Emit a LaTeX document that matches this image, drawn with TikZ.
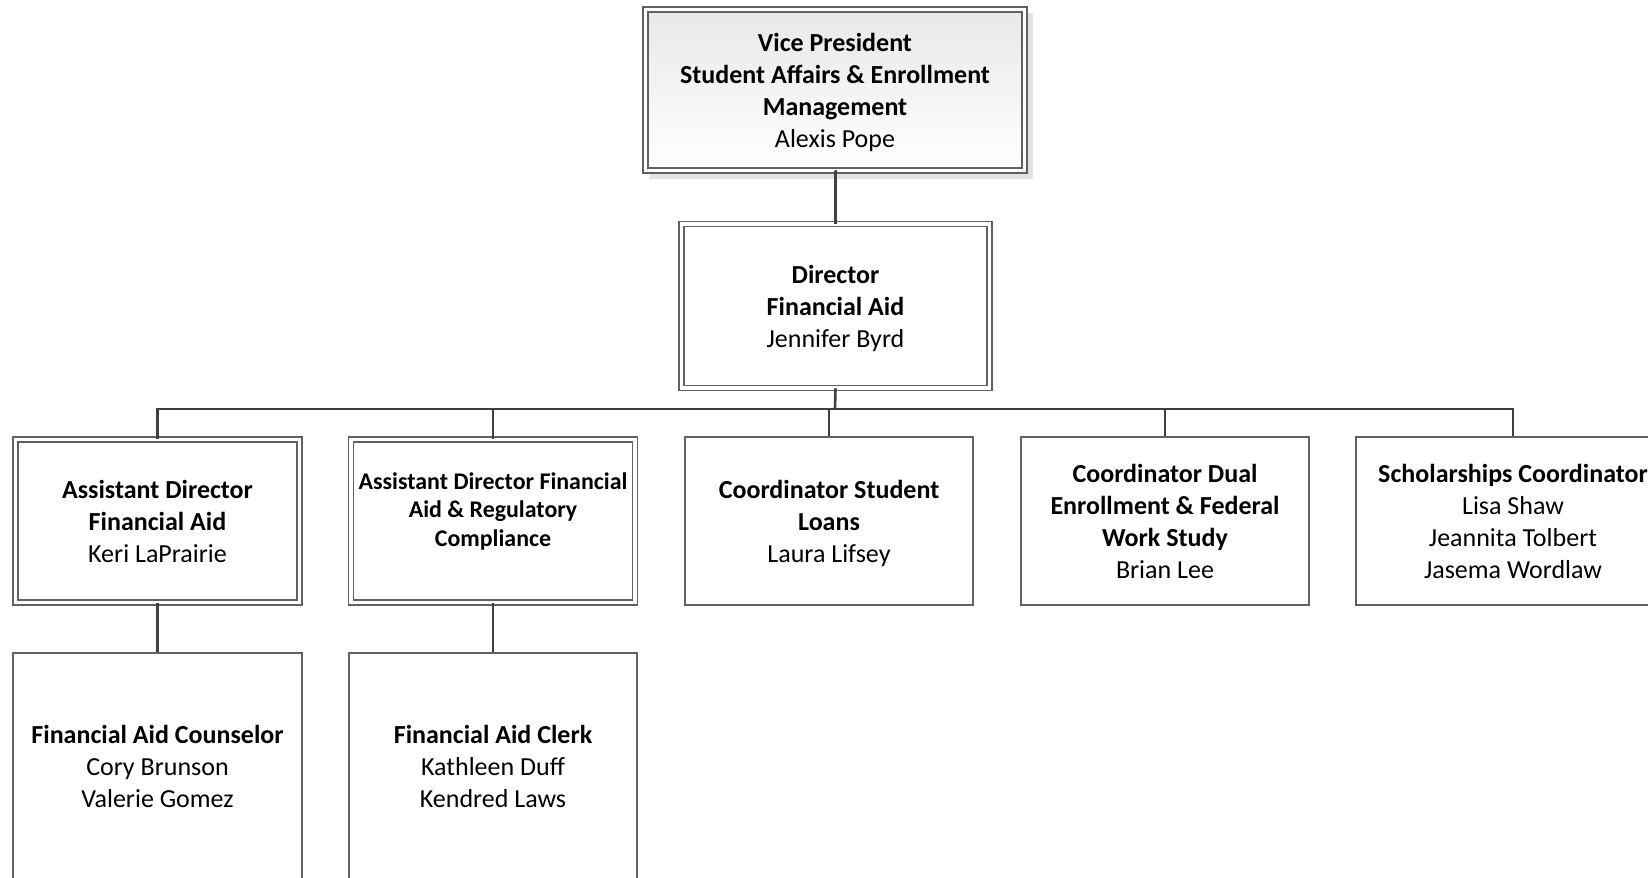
\documentclass[tikz,border=0pt]{standalone}
\usepackage{fontspec}
\setmainfont{Carlito}
\newcommand{\lstr}{\rule[-6.3bp]{0pt}{31.9bp}}
\begin{document}
\begin{tikzpicture}[x=1bp,y=-1bp,
  txt/.style={font=\fontsize{26.1}{32.1}\selectfont, align=center, text=black},
  smalltxt/.style={font=\fontsize{24}{28.6}\selectfont, align=center, text=black},
  dbox/.style={draw=black!62, line width=1.1bp, double=white, double distance=3.9bp, rectangle, inner sep=0pt},
  sbox/.style={draw=black!62, line width=1.1bp, rectangle, inner sep=0pt},
  conn/.style={draw=black!75, line width=2.6bp}]
\useasboundingbox (0,0) rectangle (1648,877);
\clip (0,0) rectangle (1648,877);
% shadow of the top box
\fill[black!11] (649,13) rectangle (1033,179);
\node[dbox, top color=black!9, bottom color=white, minimum width=379bp, minimum height=161bp, txt] (vp) at (835,90)
  {\lstr\textbf{Vice President}\\\textbf{Student Affairs \& Enrollment}\\\textbf{Management}\\Alexis Pope\lstr};
\node[dbox, fill=white, minimum width=308bp, minimum height=163.5bp, txt] (dir) at (835.5,306)
  {\lstr\textbf{Director}\\\textbf{Financial Aid}\\Jennifer Byrd\lstr};
\node[dbox, fill=white, minimum width=284bp, minimum height=163bp, txt] (ad1) at (157.5,521)
  {\lstr\textbf{Assistant Director}\\\textbf{Financial Aid}\\Keri LaPrairie\lstr};
\node[dbox, fill=white, minimum width=283.5bp, minimum height=163bp, smalltxt] (ad2) at (493,521) {};
\node[smalltxt] (ad2t) at (493,511)
  {\textbf{Assistant Director Financial}\\\textbf{Aid \& Regulatory}\\\textbf{Compliance}};
\node[sbox, fill=white, minimum width=288bp, minimum height=168bp, txt] (csl) at (829,521)
  {\lstr\textbf{Coordinator Student}\\\textbf{Loans}\\Laura Lifsey\lstr};
\node[sbox, fill=white, minimum width=288bp, minimum height=168bp, txt] (cde) at (1165,521)
  {\lstr\textbf{Coordinator Dual}\\\textbf{Enrollment \& Federal}\\\textbf{Work Study}\\Brian Lee\lstr};
\node[sbox, fill=white, minimum width=314bp, minimum height=168bp, txt] (sch) at (1513,521)
  {\lstr\textbf{Scholarships Coordinator}\\Lisa Shaw\\Jeannita Tolbert\\Jasema Wordlaw\lstr};
\node[sbox, fill=white, minimum width=289bp, minimum height=226bp, txt] (fac) at (157.5,766)
  {\lstr\textbf{Financial Aid Counselor}\\Cory Brunson\\Valerie Gomez\lstr};
\node[sbox, fill=white, minimum width=288bp, minimum height=226bp, txt] (fcl) at (493,766)
  {\lstr\textbf{Financial Aid Clerk}\\Kathleen Duff\\Kendred Laws\lstr};
% connectors
\coordinate (bus) at (835,409);
\draw[conn] (vp.south) -- (dir.south |- vp.south) -- (dir.north);
\draw[conn] (dir.south) -- (bus);
\draw[conn] (ad1.north) -- (ad1.north |- bus) -- (sch.north |- bus) -- (sch.north);
\draw[conn] (ad2.north |- bus) -- (ad2.north);
\draw[conn] (csl.north |- bus) -- (csl.north);
\draw[conn] (cde.north |- bus) -- (cde.north);
\draw[conn] (ad1.south) -- (fac.north);
\draw[conn] (ad2.south) -- (fcl.north);
\end{tikzpicture}
\end{document}
